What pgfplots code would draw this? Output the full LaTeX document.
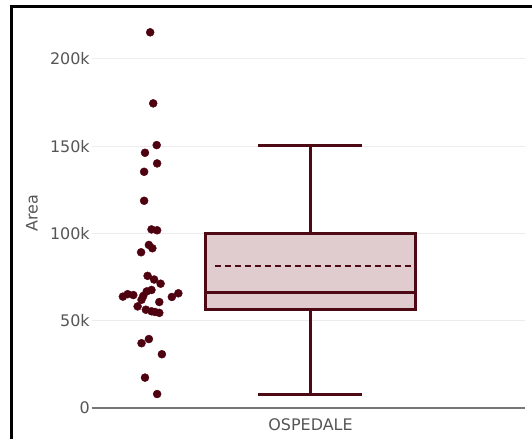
\documentclass[border=0pt]{standalone}
\usepackage{fontspec}
\setmainfont{DejaVu Sans}
\usepackage{pgfplots}
\pgfplotsset{compat=1.18}
\definecolor{maroon}{RGB}{78,2,16}
\definecolor{boxline}{RGB}{78,10,20}
\definecolor{boxfill}{RGB}{224,204,207}
\definecolor{gridc}{RGB}{236,236,236}
\definecolor{zeroc}{RGB}{118,118,118}
\definecolor{txt}{RGB}{85,85,85}
\begin{document}
\begin{tikzpicture}
\useasboundingbox (0,0) rectangle (532bp,439bp);
\draw[line width=3bp] (11bp,0) -- (11bp,432.3bp) -- (532bp,432.3bp);
\begin{axis}[
  at={(91.7bp,31bp)}, anchor=south west, scale only axis,
  width=433.3bp, height=390bp,
  xmin=-0.5, xmax=0.5, ymin=0, ymax=223.4,
  axis x line*=bottom, axis y line*=left,
  x axis line style={draw=zeroc, line width=1.6bp, -},
  y axis line style={draw=none},
  major tick length=0pt,
  ymajorgrids, grid style={draw=gridc, line width=1bp},
  ytick={0,50,100,150,200},
  yticklabels={0,50k,100k,150k,200k},
  xtick={0.005}, xticklabels={OSPEDALE},
  tick label style={font=\fontsize{16}{18}\selectfont, text=txt},
  yticklabel style={xshift=1.5bp},
  xticklabel style={yshift=-7.5bp},
  ylabel={Area},
  every axis y label/.style={at={(axis description cs:-0.1378,0.5)},rotate=90,anchor=center,font=\fontsize{16}{18}\selectfont,text=txt},
  clip=false,
]
% box
\addplot[draw=boxline, fill=boxfill, line width=3bp] coordinates {(-0.2385,56.7) (0.2484,56.7) (0.2484,99.9) (-0.2385,99.9)} -- cycle;
% median
\addplot[boxline, line width=3bp] coordinates {(-0.2385,65.9) (0.2484,65.9)};
% whiskers
\addplot[boxline, line width=3bp] coordinates {(0.005,99.9) (0.005,150.6)};
\addplot[boxline, line width=3bp] coordinates {(-0.1155,150.6) (0.1245,150.6)};
\addplot[boxline, line width=3bp] coordinates {(0.005,56.7) (0.005,7.8)};
\addplot[boxline, line width=3bp] coordinates {(-0.1155,7.8) (0.1245,7.8)};
% mean
\addplot[boxline, line width=2.8bp, dash pattern=on 6bp off 4bp] coordinates {(-0.2154,81.3) (0.2385,81.3)};
% points
\addplot[only marks, mark=*, mark size=4bp, color=maroon] coordinates {
(-0.365,215.2) (-0.358,174.5) (-0.350,150.6) (-0.377,146.2) (-0.349,140.1)
(-0.379,135.3) (-0.379,118.7) (-0.362,102.3) (-0.349,101.8) (-0.368,93.4)
(-0.360,91.5) (-0.386,89.2) (-0.371,75.7) (-0.356,73.6) (-0.341,71.2)
(-0.417,65.2) (-0.428,63.8) (-0.404,64.7) (-0.362,67.6) (-0.373,66.8)
(-0.381,64.2) (-0.385,62.0) (-0.344,60.7) (-0.315,63.6) (-0.300,65.7)
(-0.394,58.2) (-0.375,56.3) (-0.362,55.4) (-0.344,54.5) (-0.354,55.0)
(-0.368,39.5) (-0.385,37.1) (-0.338,30.8) (-0.377,17.4) (-0.349,8.0)
};
\end{axis}
\end{tikzpicture}
\end{document}
